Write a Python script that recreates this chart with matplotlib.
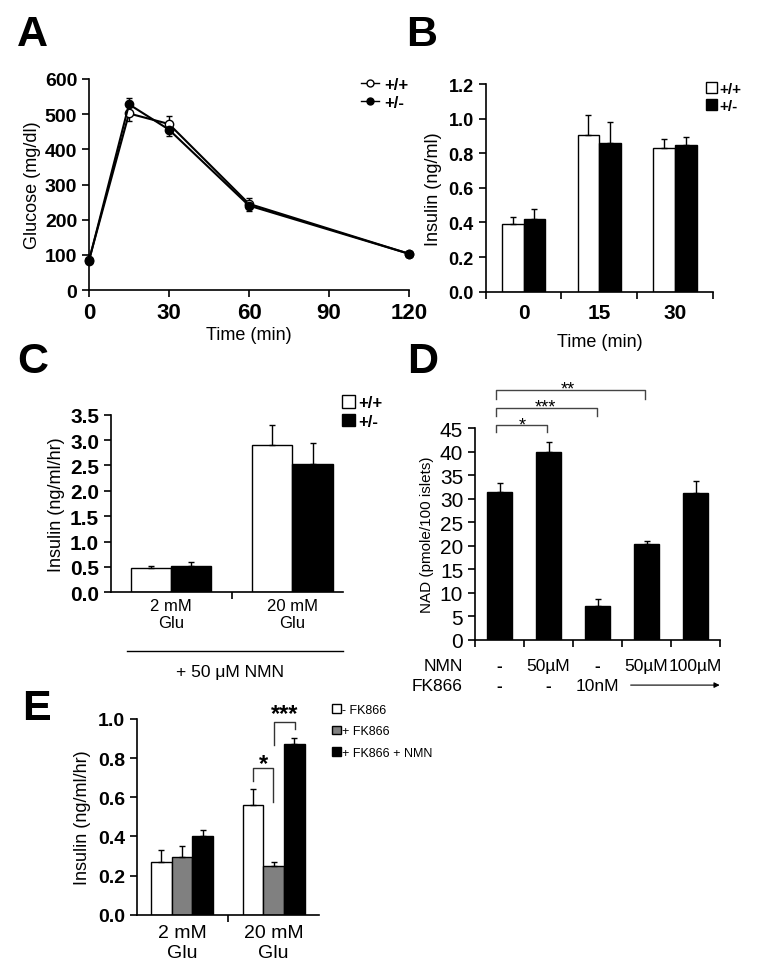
import numpy as np
import matplotlib
matplotlib.use("Agg")
import matplotlib.pyplot as plt
from matplotlib.lines import Line2D
from matplotlib.patches import Patch

plt.rcParams['font.family'] = ['Liberation Sans', 'DejaVu Sans']

# ---------------- data ----------------
# A: glucose tolerance
time_a = [0, 15, 30, 60, 120]
gluc_wt = [85, 502, 472, 245, 103]
gluc_wt_lo = [0, 22, 0, 0, 0]
gluc_wt_hi = [0, 0, 24, 17, 0]
gluc_het = [83, 528, 456, 240, 103]
gluc_het_lo = [0, 0, 17, 14, 0]
gluc_het_hi = [0, 19, 0, 0, 0]

# B: plasma insulin
time_b = ['0', '15', '30']
ins_b_wt = [0.39, 0.906, 0.828]
ins_b_wt_err = [0.04, 0.113, 0.052]
ins_b_het = [0.422, 0.859, 0.848]
ins_b_het_err = [0.054, 0.124, 0.048]

# C: islet insulin secretion + NMN
glu_labels = ['2 mM\nGlu', '20 mM\nGlu']
ins_c_wt = [0.47, 2.91]
ins_c_wt_err = [0.055, 0.39]
ins_c_het = [0.52, 2.53]
ins_c_het_err = [0.07, 0.42]

# D: NAD levels
nad = [31.4, 40.0, 7.2, 20.3, 31.25]
nad_err = [2.0, 2.0, 1.5, 0.7, 2.65]
nmn_row = ['-', '50\u00b5M', '-', '50\u00b5M', '100\u00b5M']
fk_row = ['-', '-', '10nM']

# E: FK866 insulin secretion
ins_e_ctrl = [0.271, 0.559]
ins_e_ctrl_err = [0.061, 0.082]
ins_e_fk = [0.296, 0.247]
ins_e_fk_err = [0.053, 0.02]
ins_e_fknmn = [0.402, 0.872]
ins_e_fknmn_err = [0.032, 0.031]

W, H = 763, 979
fig = plt.figure(figsize=(W / 100, H / 100), dpi=100)


def px_axes(x0, y0, x1, y1):
    return fig.add_axes([x0 / W, 1 - y1 / H, (x1 - x0) / W, (y1 - y0) / H])


def style(ax):
    for s in ['top', 'right']:
        ax.spines[s].set_visible(False)
    for s in ['left', 'bottom']:
        ax.spines[s].set_linewidth(1.2)
    ax.tick_params(direction='out', length=5, width=1.2)


def letter(x, y, s):
    # y is the baseline in pixels
    fig.text(x / W, 1 - y / H, s, fontsize=31, fontweight='bold', va='baseline', ha='left')


def px_legend(ax, handles, labels, x, y, **kw):
    return ax.legend(handles, labels, loc='upper left', bbox_to_anchor=(x / W, 1 - y / H),
                     bbox_transform=fig.transFigure, frameon=False, borderpad=0,
                     borderaxespad=0, **kw)


# ---------------- A ----------------
axA = px_axes(89, 80, 409, 291)
style(axA)
axA.errorbar(time_a, gluc_wt, yerr=[gluc_wt_lo, gluc_wt_hi], color='black', lw=1.5,
             marker='o', ms=6, mfc='white', mec='black', mew=1, capsize=2.5, elinewidth=1,
             zorder=3)
axA.errorbar(time_a, gluc_het, yerr=[gluc_het_lo, gluc_het_hi], color='black', lw=1.5,
             marker='o', ms=6, mfc='black', mec='black', capsize=2.5, elinewidth=1,
             zorder=4)
axA.set_xlim(0, 120)
axA.set_ylim(0, 600)
axA.set_xticks([0, 30, 60, 90, 120])
axA.set_yticks(range(0, 601, 100))
for t in axA.get_yticklabels():
    t.set_fontsize(14); t.set_fontweight('bold')
for t in axA.get_xticklabels():
    t.set_fontsize(16); t.set_fontweight('bold')
axA.set_xlabel('Time (min)', fontsize=13, labelpad=2)
axA.set_ylabel('Glucose (mg/dl)', fontsize=13, labelpad=3)
hA = [Line2D([], [], color='black', lw=1, marker='o', ms=5, mfc='white'),
      Line2D([], [], color='black', lw=1, marker='o', ms=5, mfc='black')]
px_legend(axA, hA, ['+/+', '+/-'], 361, 78, handlelength=1.1, handletextpad=0.3,
          labelspacing=0.15, prop={'weight': 'bold', 'size': 12})
for c in axA.get_children():
    if isinstance(c, Line2D):
        c.set_clip_on(False)
letter(17, 46, 'A')

# ---------------- B ----------------
axB = px_axes(485.7, 85, 713, 292.7)
style(axB)
xb = np.arange(len(time_b)) + 0.5
bw = 0.287
axB.bar(xb - bw / 2, ins_b_wt, bw, yerr=[np.zeros(3), ins_b_wt_err], color='white',
        edgecolor='black', lw=1, capsize=2.5, error_kw={'elinewidth': 1})
axB.bar(xb + bw / 2, ins_b_het, bw, yerr=[np.zeros(3), ins_b_het_err], color='black',
        edgecolor='black', lw=1, capsize=2.5, error_kw={'elinewidth': 1})
axB.set_xlim(0, 3)
axB.set_ylim(0, 1.2)
axB.set_yticks(np.arange(0, 1.21, 0.2))
axB.set_yticklabels(['%.1f' % v for v in np.arange(0, 1.21, 0.2)], fontsize=13, fontweight='bold')
axB.set_xticks([0, 1, 2, 3])
axB.set_xticklabels([])
axB.set_xticks(xb, minor=True)
axB.set_xticklabels(time_b, minor=True, fontsize=15, fontweight='bold')
axB.tick_params(axis='x', which='minor', length=0, pad=8)
axB.set_xlabel('Time (min)', fontsize=13, labelpad=8)
axB.set_ylabel('Insulin (ng/ml)', fontsize=13, labelpad=5)
hB = [Patch(facecolor='white', edgecolor='black'), Patch(facecolor='black', edgecolor='black')]
px_legend(axB, hB, ['+/+', '+/-'], 706, 83, handlelength=0.75, handleheight=0.75,
          handletextpad=0.15, labelspacing=0.2, prop={'weight': 'bold', 'size': 11})
letter(406, 46, 'B')

# ---------------- C ----------------
axC = px_axes(111, 415.7, 343, 593.3)
style(axC)
xc = np.arange(len(glu_labels))
cw = 0.33
axC.bar(xc - cw / 2, ins_c_wt, cw, yerr=[np.zeros(2), ins_c_wt_err], color='white',
        edgecolor='black', lw=1, capsize=2.5, error_kw={'elinewidth': 1})
axC.bar(xc + cw / 2, ins_c_het, cw, yerr=[np.zeros(2), ins_c_het_err], color='black',
        edgecolor='black', lw=1, capsize=2.5, error_kw={'elinewidth': 1})
axC.set_xlim(-0.494, 1.416)
axC.set_ylim(0, 3.5)
axC.set_yticks(np.arange(0, 3.51, 0.5))
axC.set_yticklabels(['%.1f' % v for v in np.arange(0, 3.51, 0.5)], fontsize=15, fontweight='bold')
axC.set_xticks([0.5])
axC.set_xticklabels([])
axC.set_xticks(xc, minor=True)
axC.set_xticklabels(glu_labels, minor=True, fontsize=12)
axC.tick_params(axis='x', which='minor', length=0, pad=4)
axC.set_ylabel('Insulin (ng/ml/hr)', fontsize=13, labelpad=4)
hC = [Patch(facecolor='white', edgecolor='black'), Patch(facecolor='black', edgecolor='black')]
px_legend(axC, hC, ['+/+', '+/-'], 342, 396, handlelength=0.8, handleheight=0.8,
          handletextpad=0.15, labelspacing=0.2, prop={'weight': 'bold', 'size': 12})
fig.add_artist(Line2D([127 / W, 343 / W], [1 - 651.7 / H, 1 - 651.7 / H], color='black', lw=1))
fig.text(230 / W, 1 - 673 / H, '+ 50 \u03bcM NMN', fontsize=12.5, ha='center', va='center')
letter(17, 373, 'C')

# ---------------- D ----------------
axD = px_axes(475, 429.3, 720, 641)
style(axD)
xd = np.arange(len(nad)) + 0.5
axD.bar(xd, nad, 0.52, yerr=[np.zeros(5), nad_err], color='black', edgecolor='black',
        capsize=2.5, error_kw={'elinewidth': 1})
axD.set_xlim(0, 5)
axD.set_ylim(0, 45)
axD.set_yticks(range(0, 46, 5))
axD.set_yticklabels([str(v) for v in range(0, 46, 5)], fontsize=15)
axD.set_xticks(range(6))
axD.set_xticklabels([])
axD.set_ylabel('NAD (pmole/100 islets)', fontsize=11, labelpad=4)
brackets_d = [(0.42, 1.46, 44.2, 45.7, '*', 0.97, 47.0),
              (0.42, 2.49, 47.7, 49.4, '***', 1.43, 50.8),
              (0.42, 3.46, 51.2, 53.15, '**', 1.90, 54.7)]
for x1, x2, ylo, ytop, s, tx, ty in brackets_d:
    axD.plot([x1, x1, x2, x2], [ylo, ytop, ytop, ylo], color='#444444', lw=1, clip_on=False)
    axD.text(tx, ty - 1.3, s, fontsize=13, ha='center', va='center')
trD = axD.get_xaxis_transform()
for x, s in zip(xd, nmn_row):
    axD.text(x, -0.121, s, transform=trD, ha='center', va='center', fontsize=12.5,
             fontweight='bold' if s == '-' else 'normal')
for x, s in zip(xd, fk_row):
    axD.text(x, -0.213, s, transform=trD, ha='center', va='center', fontsize=12.5,
             fontweight='bold' if s == '-' else 'normal')
axD.text(-0.245, -0.121, 'NMN', transform=trD, ha='right', va='center', fontsize=12.5)
axD.text(-0.245, -0.213, 'FK866', transform=trD, ha='right', va='center', fontsize=12.5)
axD.annotate('', xy=(5.05, -0.213), xytext=(3.12, -0.213), xycoords=trD, textcoords=trD,
             arrowprops=dict(arrowstyle='-|>', color='black', lw=0.8, mutation_scale=8))
letter(407, 373, 'D')

# ---------------- E ----------------
axE = px_axes(136.7, 720, 319, 915.7)
style(axE)
xe = np.arange(2)
ew = 0.225
axE.bar(xe - ew, ins_e_ctrl, ew, yerr=[np.zeros(2), ins_e_ctrl_err], color='white',
        edgecolor='black', lw=1, capsize=2.5, error_kw={'elinewidth': 1})
axE.bar(xe, ins_e_fk, ew, yerr=[np.zeros(2), ins_e_fk_err], color='#808080',
        edgecolor='black', lw=1, capsize=2.5, error_kw={'elinewidth': 1})
axE.bar(xe + ew, ins_e_fknmn, ew, yerr=[np.zeros(2), ins_e_fknmn_err], color='black',
        edgecolor='black', lw=1, capsize=2.5, error_kw={'elinewidth': 1})
axE.set_xlim(-0.494, 1.494)
axE.set_ylim(0, 1.0)
axE.set_yticks(np.arange(0, 1.01, 0.2))
axE.set_yticklabels(['%.1f' % v for v in np.arange(0, 1.01, 0.2)], fontsize=14, fontweight='bold')
axE.set_xticks([0.5])
axE.set_xticklabels([])
axE.set_xticks(xe, minor=True)
axE.set_xticklabels(glu_labels, minor=True, fontsize=14)
axE.tick_params(axis='x', which='minor', length=0, pad=7)
axE.set_ylabel('Insulin (ng/ml/hr)', fontsize=13, labelpad=5)
axE.plot([0.778, 0.778, 0.996, 0.996], [0.685, 0.748, 0.748, 0.574], color='#333333', lw=1, clip_on=False)
axE.text(0.887, 0.775, '*', fontsize=17, fontweight='bold', ha='center', va='center')
axE.plot([1.007, 1.007, 1.229, 1.229], [0.867, 0.986, 0.986, 0.949], color='#333333', lw=1, clip_on=False)
axE.text(1.123, 1.03, '***', fontsize=17, fontweight='bold', ha='center', va='center')
hE = [Patch(facecolor='white', edgecolor='black'), Patch(facecolor='#808080', edgecolor='black'),
      Patch(facecolor='black', edgecolor='black')]
px_legend(axE, hE, ['- FK866', '+ FK866', '+ FK866 + NMN'], 332, 705,
          handlelength=0.7, handleheight=0.7, handletextpad=0.1, labelspacing=0.75,
          prop={'size': 9})
letter(22, 720, 'E')

fig.savefig('out.png', dpi=100)
